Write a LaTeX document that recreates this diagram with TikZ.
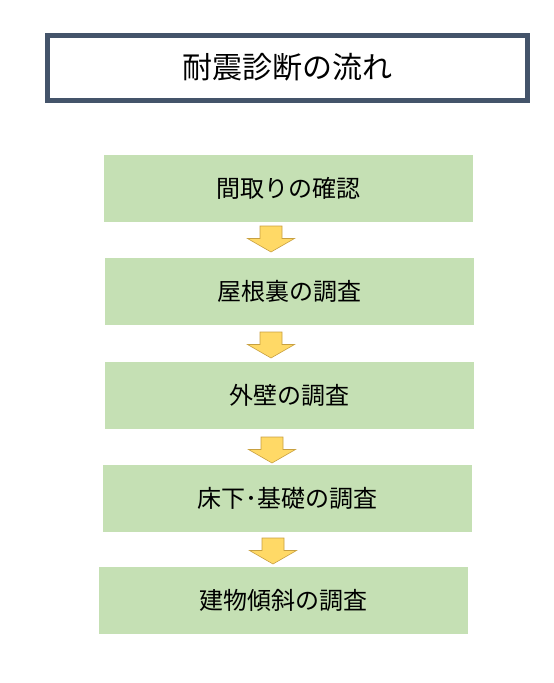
\documentclass[tikz,border=0pt]{standalone}
\usepackage{fontspec}
\newfontfamily\jpfont{Noto Sans CJK JP}
\definecolor{frameblue}{HTML}{44546A}
\definecolor{boxgreen}{HTML}{C5E0B4}
\definecolor{arrowyellow}{HTML}{FFD966}
\definecolor{arrowedge}{HTML}{C8A040}
\tikzset{
  titlebox/.style={draw=frameblue, line width=5pt, fill=white, minimum width=480pt, minimum height=65pt, inner sep=0pt, font=\jpfont\fontsize{30pt}{35pt}\selectfont},
  stepbox/.style={fill=boxgreen, draw=none, minimum width=369pt, minimum height=67pt, inner sep=0pt, font=\jpfont\fontsize{24pt}{29pt}\selectfont},
  blockarrow/.style={fill=arrowyellow, draw=arrowedge, line width=0.6pt, line join=miter}
}
\newcommand{\downarrowblock}[1]{%
  \draw[blockarrow] (#1) ++(-11,0) -- ++(22,0) -- ++(0,12.5) -- ++(12.5,0) -- ++(-23.5,13.5) -- ++(-23.5,-13.5) -- ++(12.5,0) -- cycle;}
\begin{document}
\begin{tikzpicture}[x=1pt,y=-1pt]
\useasboundingbox (0,0) rectangle (554,683);
\node[titlebox] (title) at (287,67.5) {耐震診断の流れ};
\node[stepbox] (s1) at (288.5,188.5) {間取りの確認};
\node[stepbox] (s2) at (289.5,291) {屋根裏の調査};
\node[stepbox] (s3) at (289.5,395) {外壁の調査};
\node[stepbox] (s4) at (287.5,498) {床下･基礎の調査};
\node[stepbox] (s5) at (283.5,600) {建物傾斜の調査};
\coordinate (a1) at (271,226);
\coordinate (a2) at (271,332);
\coordinate (a3) at (272,437);
\coordinate (a4) at (273,538);
\downarrowblock{a1}
\downarrowblock{a2}
\downarrowblock{a3}
\downarrowblock{a4}
\end{tikzpicture}
\end{document}
